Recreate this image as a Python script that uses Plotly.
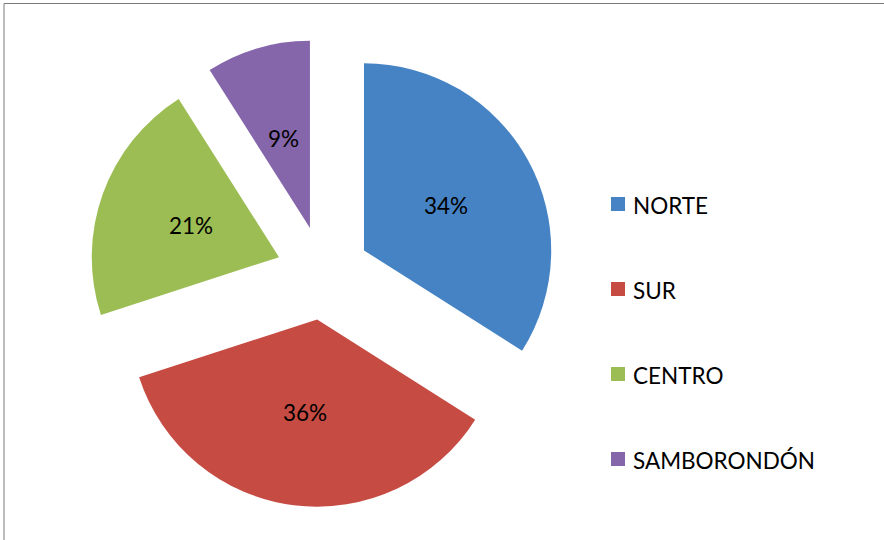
import math
import plotly.graph_objects as go

categories = ["NORTE", "SUR", "CENTRO", "SAMBORONDÓN"]
values = [34, 36, 21, 9]
colors = ["#4683C5", "#C64B42", "#9CBD53", "#8566AB"]

W, H = 884, 540
FONT = "Lato, Calibri, sans-serif"
PULL = 0.25
CX, CY, HALF = 323, 273, 234  # pie domain centre / half-size in pixels

fig = go.Figure()
fig.add_trace(go.Pie(
    labels=categories,
    values=values,
    sort=False,
    direction="clockwise",
    rotation=0,
    pull=PULL,
    marker=dict(colors=colors, line=dict(width=0)),
    textinfo="none",
    domain=dict(x=[(CX - HALF) / W, (CX + HALF) / W],
                y=[(H - CY - HALF) / H, (H - CY + HALF) / H]),
    showlegend=False,
    hoverinfo="label+percent",
))

shapes = []
annotations = []
# chart border (top and left visible)
shapes.append(dict(type="rect", xref="paper", yref="paper",
                   x0=4 / W, x1=1.05, y0=-0.05, y1=1 - 3.5 / H,
                   line=dict(color="#7a7a7a", width=1), fillcolor="rgba(0,0,0,0)", layer="below"))

# percentage labels at half radius along each slice bisector
r = 2 * HALF / (2 + 2 * PULL)
total = sum(values)
cum = 0
for v in values:
    mid = 2 * math.pi * (cum + v / 2) / total
    cum += v
    dist = PULL * r + 0.5 * r
    x = CX + dist * math.sin(mid)
    y = CY - dist * math.cos(mid)
    annotations.append(dict(xref="paper", yref="paper", x=x / W, y=1 - y / H,
                            text=f"{round(100 * v / total)}%", showarrow=False,
                            xanchor="center", yanchor="middle",
                            font=dict(family=FONT, size=22.5, color="#000000")))

# legend built from categories/colors
leg_top = 204
leg_step = 85
for i, (cat, col) in enumerate(zip(categories, colors)):
    yc = leg_top + i * leg_step
    shapes.append(dict(type="rect", xref="paper", yref="paper",
                       x0=611 / W, x1=625 / W,
                       y0=1 - (yc + 7) / H, y1=1 - (yc - 7) / H,
                       fillcolor=col, line=dict(width=0)))
    annotations.append(dict(xref="paper", yref="paper", x=631 / W, y=1 - (yc + 1) / H,
                            text=cat, showarrow=False, xanchor="left", yanchor="middle",
                            font=dict(family=FONT, size=22.5, color="#000000")))

fig.update_layout(
    width=W, height=H,
    margin=dict(l=0, r=0, t=0, b=0),
    paper_bgcolor="#ffffff",
    plot_bgcolor="#ffffff",
    shapes=shapes,
    annotations=annotations,
)

fig.write_html("out.html")
